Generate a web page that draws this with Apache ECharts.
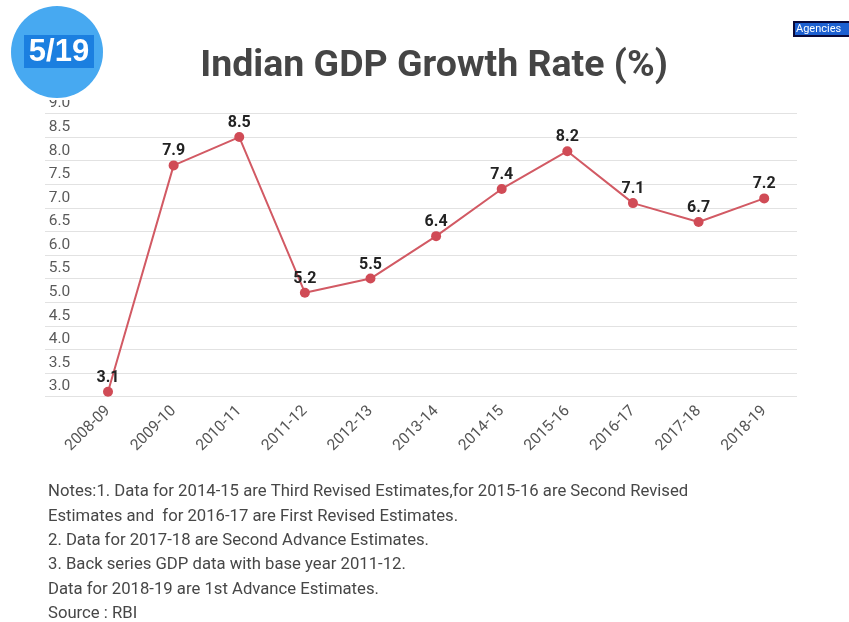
<!DOCTYPE html>
<html>
<head>
<meta charset="utf-8">
<script src="https://cdn.jsdelivr.net/npm/echarts@6/dist/echarts.min.js"></script>
<style>
  html, body { margin: 0; padding: 0; background: #fff; }
  #chart { width: 849px; height: 622px; }
</style>
</head>
<body>
<div id="chart"></div>
<script>
// Fiscal years and GDP growth (%)
const years = ['2008-09', '2009-10', '2010-11', '2011-12', '2012-13', '2013-14',
               '2014-15', '2015-16', '2016-17', '2017-18', '2018-19'];
const growth = [3.1, 7.9, 8.5, 5.2, 5.5, 6.4, 7.4, 8.2, 7.1, 6.7, 7.2];
const yMin = 3.0, yMax = 9.0, yStep = 0.5;

const notes = [
  'Notes:1. Data for 2014-15 are Third Revised Estimates,for 2015-16 are Second Revised',
  'Estimates and  for 2016-17 are First Revised Estimates.',
  '2. Data for 2017-18 are Second Advance Estimates.',
  '3. Back series GDP data with base year 2011-12.',
  'Data for 2018-19 are 1st Advance Estimates.',
  'Source : RBI'
];

const chart = echarts.init(document.getElementById('chart'));
const font = 'Roboto, "Noto Sans", sans-serif';
const lineColor = '#d25a64';

const noteGraphics = notes.map((t, i) => ({
  type: 'text', x: 48, y: 492 + i * 24.4, z: 10,
  style: { text: t, fill: '#474747', font: '16.7px ' + font, textVerticalAlign: 'middle' }
}));

chart.setOption({
  animation: false,
  title: {
    text: 'Indian GDP Growth Rate (%)',
    left: 429, top: 43, textAlign: 'center',
    textStyle: { fontFamily: font, fontSize: 37.5, fontWeight: 'bold', color: '#454545' }
  },
  grid: [
    { left: 75.2, right: 52, top: 113.5, bottom: 225.5 },
    { left: 45, right: 52, top: 113.5, bottom: 225.5 }
  ],
  xAxis: [
    {
      type: 'category', data: years, gridIndex: 0, boundaryGap: true,
      axisLine: { show: false }, axisTick: { show: false },
      axisLabel: { rotate: 45, margin: 12, color: '#555', fontSize: 15.5, fontFamily: font }
    },
    { type: 'value', gridIndex: 1, show: false, min: 0, max: 1 }
  ],
  yAxis: [
    {
      type: 'value', gridIndex: 0, min: yMin, max: yMax, interval: yStep,
      axisLine: { show: false }, axisTick: { show: false }, splitLine: { show: false },
      axisLabel: {
        margin: 5, color: '#5a5a5a', fontSize: 15.5, fontFamily: font,
        verticalAlign: 'bottom', padding: [0, 0, 2, 0],
        formatter: v => v.toFixed(1)
      }
    },
    {
      type: 'value', gridIndex: 1, min: yMin, max: yMax, interval: yStep,
      axisLine: { show: false }, axisTick: { show: false }, axisLabel: { show: false },
      splitLine: { lineStyle: { color: '#e2e2e2', width: 1 } }
    }
  ],
  series: [{
    type: 'line', data: growth, xAxisIndex: 0, yAxisIndex: 0,
    symbol: 'circle', symbolSize: 10, z: 5,
    lineStyle: { color: lineColor, width: 2 },
    itemStyle: { color: '#d04b56' },
    label: {
      show: true, position: 'top', distance: 1,
      color: '#222', fontSize: 16, fontWeight: 'bold', fontFamily: font,
      formatter: p => p.value.toFixed(1)
    }
  }],
  graphic: [
    // mask over the top of the 9.0 label
    { type: 'rect', shape: { x: 40, y: 85, width: 45, height: 15 }, style: { fill: '#fff' }, z: 20 },
    // slide badge
    { type: 'circle', shape: { cx: 57, cy: 52, r: 46 }, style: { fill: '#47a9f1' }, z: 30 },
    { type: 'rect', shape: { x: 24, y: 35, width: 70, height: 33 }, style: { fill: '#1b7fe0' }, z: 31 },
    {
      type: 'text', x: 59, y: 52, z: 32,
      style: { text: '5/19', fill: '#fff', font: 'bold 31px "Liberation Sans", Arial, sans-serif', textAlign: 'center', textVerticalAlign: 'middle' }
    },
    // agency tag
    { type: 'rect', shape: { x: 793, y: 21, width: 56, height: 16 }, style: { fill: '#0a0a3a' }, z: 30 },
    { type: 'rect', shape: { x: 795, y: 23, width: 54, height: 12 }, style: { fill: '#1c5fd0' }, z: 31 },
    {
      type: 'text', x: 796, y: 29, z: 32,
      style: { text: 'Agencies', fill: '#fff', font: '11px ' + font, textVerticalAlign: 'middle' }
    },
    ...noteGraphics
  ]
});
</script>
</body>
</html>
